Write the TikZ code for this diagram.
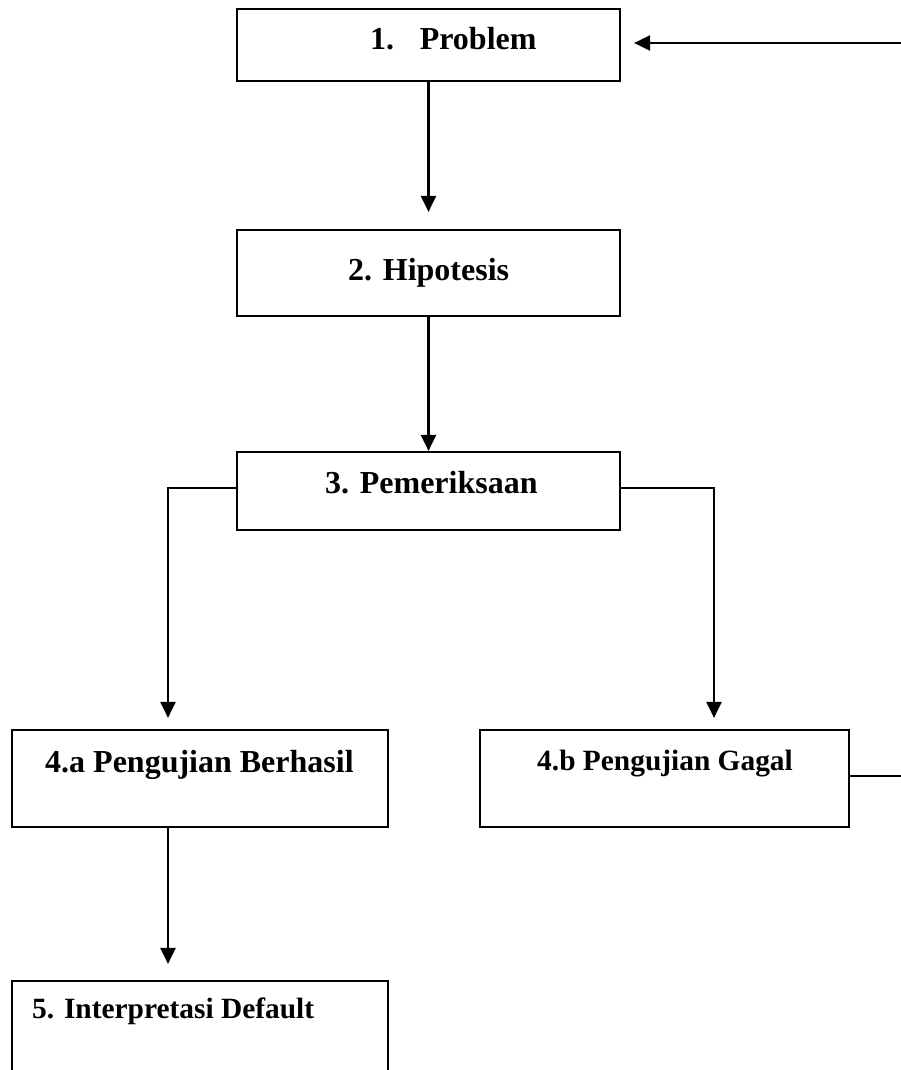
\documentclass[tikz,border=0pt]{standalone}
\usepackage{fontspec}
\setmainfont{Liberation Serif}
\usetikzlibrary{arrows.meta}
\tikzset{
  box/.style={draw, line width=2.2pt, rectangle, inner sep=0pt},
  lbl/.style={anchor=base west, inner sep=0pt, font=\bfseries\fontsize{32}{38}\selectfont},
  lblsm/.style={anchor=base west, inner sep=0pt, font=\bfseries\fontsize{29.4}{35}\selectfont},
  conn/.style={line width=2.2pt},
  arr/.style={line width=2.2pt, -{Triangle[length=16pt,width=15pt]}}
}
\begin{document}
\begin{tikzpicture}[x=1pt,y=-1pt]
\useasboundingbox (0,0) rectangle (901,1070);
\clip (0,0) rectangle (901,1070);
% boxes
\node[box, minimum width=383pt, minimum height=72pt] (b1) at (428.5,45) {};
\node[box, minimum width=383pt, minimum height=86pt] (b2) at (428.5,273) {};
\node[box, minimum width=383pt, minimum height=78pt] (b3) at (428.5,491) {};
\node[box, minimum width=376pt, minimum height=97pt] (b4a) at (200,778.5) {};
\node[box, minimum width=369pt, minimum height=97pt] (b4b) at (664.5,778.5) {};
\node[box, minimum width=376pt, minimum height=97pt] (b5) at (200,1029.5) {};
% texts
\node[lbl] (t1) at (370,50) {1.\hspace{0.8em}Problem};
\node[lbl] (t2) at (348,280) {2. Hipotesis};
\node[lbl] (t3) at (325,493) {3. Pemeriksaan};
\node[lbl] (t4a) at (45,772) {4.a Pengujian Berhasil};
\node[lblsm] (t4b) at (537,770) {4.b Pengujian Gagal};
\node[lblsm] (t5) at (32,1018) {5. Interpretasi Default};
% free ends
\coordinate (r1) at (901,43);
\coordinate (r2) at (901,776);
% connectors
\draw[arr, shorten >=17pt] (b1) -- (b2);
\draw[arr] (b2) -- (b3);
\draw[arr, shorten >=11pt] ([yshift=3pt]b3.west) -| ([xshift=-32pt]b4a.north);
\draw[arr, shorten >=11pt] ([yshift=3pt]b3.east) -| ([xshift=49.5pt]b4b.north);
\draw[arr, shorten >=16pt] ([xshift=-32pt]b4a.south) -- ([xshift=-32pt]b5.north);
\draw[conn] ([yshift=2.5pt]b4b.east) -- (r2);
\draw[arr, shorten >=13pt] (r1) -- ([yshift=2pt]b1.east);
\end{tikzpicture}
\end{document}
